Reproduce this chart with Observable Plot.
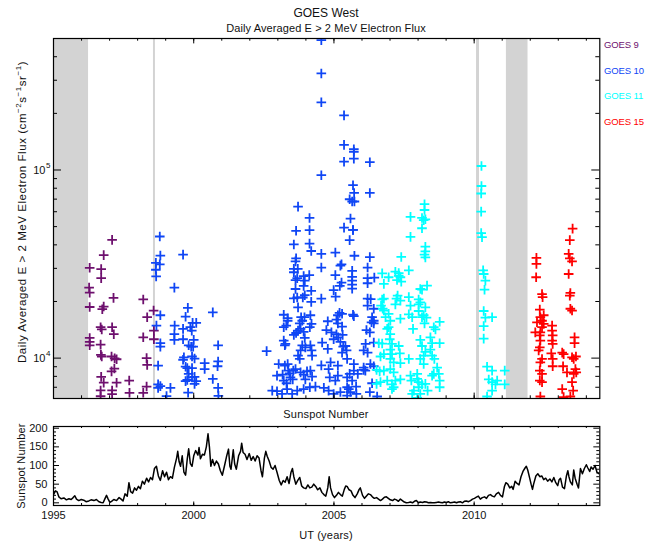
<!DOCTYPE html>
<html>
<head>
<meta charset="utf-8">
<script src="https://cdn.jsdelivr.net/npm/d3@7"></script>
<script src="https://cdn.jsdelivr.net/npm/@observablehq/plot@0.6"></script>
<style>
  body { margin: 0; background: #fff; }
  #wrap { position: relative; width: 646px; height: 544px; background: #fff; overflow: hidden;
          font-family: "Liberation Sans", Arial, sans-serif; color: #111; }
  .abs { position: absolute; white-space: nowrap; }
  .ctr { transform: translate(-50%, -50%); }
  .rot { transform: translate(-50%, -50%) rotate(-90deg); }
  sup { font-size: 8px; vertical-align: 5px; line-height: 0; }
  #top, #bottom { position: absolute; left: 0; }
  #top { top: 0; }
  #bottom { top: 400px; }
</style>
</head>
<body>
<div id="wrap">
  <div id="top"></div>
  <div id="bottom"></div>
  <div class="abs ctr" style="left:326px;top:13px;font-size:12px;">GOES West</div>
  <div class="abs ctr" style="left:326px;top:28px;font-size:11px;letter-spacing:0.1px;">Daily Averaged E &gt; 2 MeV Electron Flux</div>
  <div class="abs rot" style="left:22px;top:212px;font-size:11.5px;letter-spacing:0.55px;">Daily Averaged E &gt; 2 MeV Electron Flux (cm<sup>−2</sup>s<sup>−1</sup>sr<sup>−1</sup>)</div>
  <div class="abs ctr" style="left:326px;top:414px;font-size:11px;letter-spacing:0.2px;">Sunspot Number</div>
  <div class="abs rot" style="left:21px;top:466px;font-size:11px;letter-spacing:0.2px;">Sunspot Number</div>
  <div class="abs ctr" style="left:326px;top:535px;font-size:11px;letter-spacing:0.2px;">UT (years)</div>
  <div id="legend"></div>
</div>
<script>
// ---------------- data ----------------
const seriesNames = ["GOES 9", "GOES 10", "GOES 11", "GOES 15"];
const seriesColors = ["#6e106e", "#0f46f5", "#00ffff", "#ff0000"];

// [year, flux in units of 10^3 cm^-2 s^-1 sr^-1]
const goes9 = [[1997.09,42.5],[1996.79,35.3],[1996.29,30.2],[1996.70,29.7],[1996.70,26.6],[1996.27,23.7],[1996.29,22.3],[1997.14,20.9],[1998.20,20.5],[1996.29,18.7],[1996.79,18.8],[1996.74,18.2],[1998.57,17.9],[1998.34,16.5],[1996.68,14.6],[1996.72,14.2],[1997.09,14.6],[1997.15,13.4],[1998.58,14.0],[1996.29,12.8],[1996.29,12.2],[1996.29,11.7],[1998.20,12.9],[1998.58,12.6],[1996.68,11.8],[1996.69,10.4],[1996.72,10.2],[1997.07,10.2],[1997.18,9.98],[1997.25,9.86],[1998.32,10.0],[1998.34,9.2],[1997.17,8.8],[1997.07,8.5],[1996.70,7.95],[1996.79,7.4],[1997.25,7.4],[1997.70,7.6],[1998.32,7.06],[1996.68,6.73],[1997.09,6.73],[1997.09,6.43],[1997.71,6.54],[1998.20,6.54],[1996.68,6.27]];

const goes10 = [[1998.79,44.3],[1998.81,35.1],[1999.62,35.5],[1998.65,32.1],[1998.79,31.5],[1998.65,29.5],[1998.66,27.2],[1999.31,23.7],[1999.79,18.5],[1999.71,16.6],[2000.68,17.5],[1998.81,16.9],[1998.67,14.9],[1999.32,14.9],[1999.62,14.3],[1999.96,15.4],[2000.09,15.4],[1999.88,14.6],[1999.93,14.0],[1999.31,13.4],[1999.31,12.5],[1999.62,12.6],[2000.00,12.5],[1998.81,12.0],[1998.81,11.5],[1999.82,11.7],[1999.91,11.5],[1999.98,11.5],[2000.87,11.7],[1999.65,10.1],[1999.62,9.8],[1999.94,10.2],[2000.03,9.95],[1998.73,9.12],[2000.39,9.4],[2000.39,8.75],[2000.87,9.6],[2000.85,9.05],[1999.71,9.0],[1999.77,8.85],[1999.94,8.85],[1999.82,8.25],[2000.03,7.95],[1999.94,7.9],[1999.71,7.55],[1999.77,7.65],[2000.09,7.55],[2000.03,7.3],[2000.68,7.75],[1998.73,7.25],[1998.81,7.1],[1998.73,6.95],[1999.17,6.95],[2000.87,6.95],[1999.03,6.28],[1999.80,6.55],[2000.88,6.3],
[2004.55,490],[2004.55,326],[2004.55,229],[2005.36,195],[2005.36,136],[2005.71,129],[2005.71,125],[2005.36,110.7],[2005.71,115],[2006.28,110],[2004.55,93.8],[2005.68,83],[2005.72,75.5],[2006.28,75.5],[2005.56,69.9],[2005.65,68],[2005.73,68],[2003.72,63.9],[2004.13,55.6],[2003.65,47.5],[2004.13,47.9],[2005.36,49.4],[2005.68,48.0],[2005.56,42.4],[2003.57,40.2],[2004.13,40.6],[2004.19,37.1],[2004.55,35.8],[2005.05,36.4],[2005.73,35.0],[2006.28,34.4],[2003.65,33.9],[2003.63,32.7],[2003.71,29.8],[2003.57,29.8],[2003.57,28.6],[2004.55,30.3],[2005.27,31.5],[2005.23,31.0],[2006.20,30.3],[2003.63,26.0],[2003.69,26.6],[2003.63,23.3],[2003.57,20.8],[2003.69,21.0],[2003.92,27.3],[2003.96,25.8],[2003.92,24.2],[2003.96,21.6],[2003.89,21.0],[2004.12,27.6],[2004.19,22.8],[2004.19,19.9],[2004.55,20.7],[2005.05,27.6],[2004.99,23.0],[2005.06,21.2],[2005.21,24.2],[2005.27,25.2],[2005.65,29.1],[2005.65,27.0],[2005.65,25.8],[2005.65,24.6],[2005.65,23.4],[2006.20,26.6],[2006.20,25.0],[2006.44,26.8],[2006.20,20.7],[2006.20,19.0],[2006.31,20.6],[2006.42,18.3],[2006.36,16.5],[2006.42,15.8],[2006.34,15.5],[2006.42,15.3],[2003.72,18.6],[2003.21,17.0],[2003.35,16.3],[2003.35,15.8],[2003.83,16.5],[2003.95,16.5],[2003.87,15.8],[2003.78,15.3],[2004.16,16.9],[2004.20,15.2],[2004.14,14.6],[2003.21,14.6],[2003.30,14.9],[2003.65,13.6],[2003.57,13.3],[2003.72,14.0],[2003.81,14.3],[2003.92,13.8],[2003.96,12.8],[2003.21,12.4],[2003.27,11.9],[2003.25,11.7],[2003.87,11.7],[2003.81,11.0],[2003.98,11.4],[2004.16,11.7],[2004.20,11.0],[2004.22,10.3],[2003.72,10.3],[2003.78,9.9],[2004.58,12.1],[2004.78,15.7],[2005.09,16.0],[2005.14,15.3],[2005.20,17.4],[2005.14,16.9],[2005.29,17.2],[2005.68,17.0],[2005.71,16.7],[2004.73,14.1],[2004.91,13.7],[2005.09,13.4],[2005.15,12.9],[2004.99,12.6],[2005.31,13.3],[2005.23,12.2],[2005.33,11.5],[2005.45,11.0],[2005.29,10.7],[2005.47,9.9],[2004.78,11.2],[2006.16,14.1],[2006.28,13.7],[2006.13,11.9],[2006.06,11.0],[2006.20,10.7],[2006.30,9.3],[2002.60,10.9],
[2003.03,9.3],[2003.25,9.12],[2003.35,9.3],[2002.97,8.07],[2003.17,8.17],[2003.37,8.58],[2003.42,8.3],[2003.55,8.58],[2003.45,7.9],[2003.63,8.75],[2003.21,7.6],[2003.31,7.35],[2003.53,7.7],[2003.81,8.4],[2003.92,8.17],[2004.04,8.5],[2004.16,8.58],[2004.22,7.98],[2003.98,7.7],[2004.55,9.15],[2004.88,9.5],[2005.14,9.12],[2004.81,8.75],[2004.85,7.9],[2005.14,8.07],[2005.05,7.6],[2005.47,7.9],[2005.56,8.25],[2005.71,8.58],[2005.79,7.05],[2005.85,8.25],[2005.53,6.85],[2005.59,6.6],[2006.06,8.65],[2006.12,8.58],
[2002.80,6.72],[2002.97,6.67],[2003.15,6.45],[2003.33,6.85],[2003.51,6.45],[2003.69,6.72],[2003.92,6.85],[2004.14,7.0],[2004.34,7.05],[2004.64,6.95],[2004.81,6.72],[2004.99,6.45],[2005.23,6.6],[2005.47,6.32],[2005.80,6.45],[2006.28,6.6],[2006.54,6.25],
[2005.59,55.2],[2005.68,48.0],[2005.29,14.7],[2006.42,12.1],[2005.41,11.6],[2006.42,9.05],[2006.06,8.9],[2005.71,9.3],[2005.65,7.6],[2005.47,7.0],[2006.36,7.35]];

const goes11 = [[2008.23,65.8],[2008.23,61.3],[2007.73,56.3],[2008.14,55.6],[2008.20,54.1],[2008.26,54.7],[2008.14,49.0],[2007.73,44.1],[2008.26,39.1],[2008.26,36.9],[2008.26,34.3],[2008.23,35.5],[2007.40,34.5],[2007.67,29.3],[2006.72,28.2],[2006.95,26.9],[2007.19,28.8],[2007.31,28.3],[2007.37,26.9],[2007.25,26.0],[2007.40,25.5],[2007.31,27.4],[2008.08,23.3],[2008.14,23.1],[2008.32,24.3],[2006.78,24.8],[2006.72,20.5],[2006.78,20.7],[2006.68,19.0],[2006.74,18.3],[2007.27,21.5],[2007.23,20.7],[2007.37,20.2],[2007.19,19.3],[2007.67,21.1],[2007.73,19.0],[2007.67,17.1],[2008.02,20.5],[2008.08,19.8],[2008.02,19.3],[2008.02,17.8],[2008.26,18.6],[2008.20,16.9],[2008.14,16.5],[2008.30,16.4],[2008.23,15.3],[2006.78,17.9],[2006.95,17.2],[2006.84,16.5],[2007.37,16.2],[2007.79,16.5],[2007.82,14.3],[2007.01,15.8],[2006.95,14.6],[2006.90,14.3],[2008.56,14.6],[2008.62,14.2],[2008.77,15.6],[2008.44,12.9],[2008.50,12.0],[2008.77,12.0],[2008.08,12.5],[2008.14,11.6],[2008.26,10.8],[2008.20,10.3],[2008.08,9.9],[2008.20,9.3],[2007.01,13.4],[2006.99,12.6],[2007.07,11.9],[2007.01,11.1],[2007.07,10.5],[2007.01,9.9],[2007.13,9.5],[2006.60,12.0],[2006.72,11.95],[2006.78,10.5],[2006.66,10.2],[2007.31,11.6],[2007.35,10.6],[2007.37,9.4],[2007.67,9.9],[2008.44,11.1],[2008.50,10.3],[2008.58,9.9],[2008.68,8.9],[2008.56,8.25],[2006.52,8.65],[2006.63,8.5],[2006.78,8.58],[2007.01,8.75],[2007.13,8.4],[2007.19,7.6],[2007.37,7.7],[2006.52,7.3],[2006.66,7.45],[2006.90,7.6],[2007.07,7.25],[2007.07,6.85],[2007.13,7.0],[2007.73,8.07],[2007.76,7.6],[2007.97,8.25],[2007.97,7.75],[2008.02,7.45],[2008.02,7.0],[2008.14,7.25],[2007.85,6.72],[2008.08,6.45],[2007.79,6.45],[2008.34,6.72],[2008.26,7.3],[2008.50,8.07],[2008.74,8.25],[2008.77,7.6],[2008.77,7.0],[2007.97,6.15],
[2010.26,105],[2010.26,82.2],[2010.25,75.0],[2010.25,60.1],[2010.25,46.2],[2010.28,44.0],[2010.32,29.3],[2010.34,28.0],[2010.40,25.8],[2010.37,23.1],[2010.34,17.8],[2010.40,16.4],[2010.64,16.5],[2010.34,14.8],[2010.34,12.7],[2010.46,9.0],[2010.64,8.58],[2011.09,8.58],[2010.52,7.7],[2010.64,7.45],[2010.82,7.6],[2010.76,7.25],[2011.09,7.25],[2010.64,6.72],[2010.46,6.25]];

const goes15 = [[2012.22,34.1],[2012.22,31.7],[2012.21,26.9],[2012.42,21.9],[2012.44,21.1],[2012.34,18.1],[2012.36,16.5],[2012.48,16.9],[2012.42,15.8],[2012.24,15.5],[2012.48,15.2],[2012.42,14.6],[2012.36,13.7],[2012.18,13.7],[2012.34,13.2],[2012.36,12.4],[2012.34,11.4],[2012.30,11.0],[2012.42,9.9],[2012.36,9.5],[2012.34,8.58],[2012.42,8.25],[2012.34,7.6],[2012.42,7.45],[2012.36,6.25],[2012.78,14.9],[2012.78,14.0],[2012.80,13.2],[2012.78,12.4],[2012.80,11.9],[2012.75,10.6],[2012.80,9.9],[2012.80,9.05],[2013.14,10.7],[2013.19,10.5],[2013.17,9.05],[2013.14,6.85],[2013.51,48.8],[2013.41,42.4],[2013.37,35.8],[2013.41,33.9],[2013.49,32.7],[2013.37,28.0],[2013.43,22.2],[2013.41,21.5],[2013.43,18.3],[2013.49,17.9],[2013.58,12.9],[2013.58,12.0],[2013.49,10.1],[2013.63,10.2],[2013.55,9.9],[2013.61,8.75],[2013.64,8.4],[2013.55,8.25],[2013.31,8.4],[2013.49,7.45],[2013.53,6.72],[2013.19,6.2],[2013.43,6.25]];

// data gaps (gray bands), in years
const gapBands = [[1995.0, 1996.25], [1998.565, 1998.635], [2010.085, 2010.19], [2011.15, 2011.92]];

// sunspot number: [year, value]
const sunspot = [[1995.00,22],[1995.07,32],[1995.13,29],[1995.19,16],[1995.27,11],[1995.37,13],[1995.46,8],[1995.55,11],[1995.63,9],[1995.70,14],[1995.76,19],[1995.82,10],[1995.90,6],[1995.99,9],[1996.08,7],[1996.16,3],[1996.26,5],[1996.34,8],[1996.44,6],[1996.53,9],[1996.62,3],[1996.70,1],[1996.77,0],[1996.84,12],[1996.89,20],[1996.95,10],[1997.01,1],[1997.07,4],[1997.15,9],[1997.25,6],[1997.34,14],[1997.41,10],[1997.48,5],[1997.55,24],[1997.63,18],[1997.69,54],[1997.75,30],[1997.82,26],[1997.89,40],[1997.96,34],[1998.03,44],[1998.10,38],[1998.17,58],[1998.24,50],[1998.32,66],[1998.39,56],[1998.46,68],[1998.53,62],[1998.60,92],[1998.67,98],[1998.74,72],[1998.81,60],[1998.89,86],[1998.96,70],[1999.03,82],[1999.10,62],[1999.17,70],[1999.24,66],[1999.31,95],[1999.39,120],[1999.43,138],[1999.48,110],[1999.53,98],[1999.59,126],[1999.65,82],[1999.71,74],[1999.77,118],[1999.82,145],[1999.88,105],[1999.94,98],[2000.00,126],[2000.07,140],[2000.15,128],[2000.19,148],[2000.24,118],[2000.31,130],[2000.38,128],[2000.45,150],[2000.51,185],[2000.56,150],[2000.61,98],[2000.67,116],[2000.74,100],[2000.81,112],[2000.88,104],[2000.95,86],[2001.02,74],[2001.10,100],[2001.17,124],[2001.24,144],[2001.29,98],[2001.33,90],[2001.41,142],[2001.46,104],[2001.52,90],[2001.60,126],[2001.67,138],[2001.71,160],[2001.76,135],[2001.83,130],[2001.90,116],[2001.98,132],[2002.05,114],[2002.12,124],[2002.19,112],[2002.26,126],[2002.33,120],[2002.40,86],[2002.45,70],[2002.52,120],[2002.57,138],[2002.62,125],[2002.69,112],[2002.76,95],[2002.83,90],[2002.90,100],[2002.97,82],[2003.05,60],[2003.12,48],[2003.19,60],[2003.26,55],[2003.33,70],[2003.40,52],[2003.47,82],[2003.52,92],[2003.57,70],[2003.64,50],[2003.71,60],[2003.78,68],[2003.85,45],[2003.92,40],[2004.00,38],[2004.07,48],[2004.14,40],[2004.21,42],[2004.28,50],[2004.35,44],[2004.42,35],[2004.50,40],[2004.57,28],[2004.64,22],[2004.71,18],[2004.78,40],[2004.83,70],[2004.88,40],[2004.95,22],[2005.02,14],[2005.09,20],[2005.16,28],[2005.23,22],[2005.30,18],[2005.37,36],[2005.42,45],[2005.47,44],[2005.54,35],[2005.61,32],[2005.68,20],[2005.75,14],[2005.83,24],[2005.90,36],[2005.94,40],[2006.02,20],[2006.09,12],[2006.16,18],[2006.23,24],[2006.30,22],[2006.37,16],[2006.44,12],[2006.52,14],[2006.59,10],[2006.66,6],[2006.73,10],[2006.80,15],[2006.87,16],[2006.94,12],[2007.01,8],[2007.09,6],[2007.16,10],[2007.23,8],[2007.30,4],[2007.37,10],[2007.44,6],[2007.51,2],[2007.58,0],[2007.66,1],[2007.73,2],[2007.80,0],[2007.87,4],[2007.94,6],[2008.01,0],[2008.08,2],[2008.16,1],[2008.23,3],[2008.30,2],[2008.37,0],[2008.44,1],[2008.51,0],[2008.58,0],[2008.65,1],[2008.73,2],[2008.80,1],[2008.87,0],[2008.94,2],[2009.01,1],[2009.08,3],[2009.15,0],[2009.22,1],[2009.30,2],[2009.37,0],[2009.44,2],[2009.51,3],[2009.58,0],[2009.65,4],[2009.72,5],[2009.80,3],[2009.87,6],[2009.94,10],[2010.01,12],[2010.08,15],[2010.15,18],[2010.22,10],[2010.29,14],[2010.37,16],[2010.44,12],[2010.51,20],[2010.58,22],[2010.65,18],[2010.72,16],[2010.79,24],[2010.87,28],[2010.94,20],[2011.01,16],[2011.08,44],[2011.13,54],[2011.20,50],[2011.27,40],[2011.34,44],[2011.39,36],[2011.46,58],[2011.53,52],[2011.60,48],[2011.67,70],[2011.74,84],[2011.82,94],[2011.86,98],[2011.91,88],[2011.98,66],[2012.03,50],[2012.08,36],[2012.12,50],[2012.20,72],[2012.27,78],[2012.34,70],[2012.41,72],[2012.48,62],[2012.55,66],[2012.62,58],[2012.70,64],[2012.77,56],[2012.84,68],[2012.91,54],[2012.98,46],[2013.03,62],[2013.08,66],[2013.15,42],[2013.22,38],[2013.29,72],[2013.34,86],[2013.38,70],[2013.43,56],[2013.50,48],[2013.55,88],[2013.60,66],[2013.67,50],[2013.72,40],[2013.79,92],[2013.86,78],[2013.93,92],[2014.00,102],[2014.05,94],[2014.12,84],[2014.17,96],[2014.24,90],[2014.31,100],[2014.38,82],[2014.45,78]];

// axis ticks
const yearTicks = [1995,1996,1997,1998,1999,2000,2001,2002,2003,2004,2005,2006,2007,2008,2009,2010,2011,2012,2013,2014];
const yearMajorTicks = [1995, 2000, 2005, 2010];
const yearLabels = ["1995", "2000", "2005", "2010"];
const fluxMajorTicks = [1e4, 1e5];
const fluxMinorTicks = [7e3,8e3,9e3,2e4,3e4,4e4,5e4,6e4,7e4,8e4,9e4,2e5,3e5,4e5];
const ssnMajorTicks = [0, 50, 100, 150, 200];
const ssnMinorTicks = [10,20,30,40,60,70,80,90,110,120,130,140,160,170,180,190];

// ---------------- layout ----------------
const W = 646;
const mL = 53, mR = 46.7;
const innerW = W - mL - mR;
const xDomain = [1995, 2014.48];
const fluxDomain = [6100, 5e5];

const topH = 410, topMT = 38, topMB = 12;
const topInnerH = topH - topMT - topMB;
const botH = 144, botMT = 26, botMB = 39;
const botInnerH = botH - botMT - botMB;

const seriesData = [goes9, goes10, goes11, goes15];
const rows = seriesData.flatMap((arr, k) =>
  arr.map(([year, fk]) => ({year, flux: fk * 1000, series: seriesNames[k]})));

const tickStyle = {stroke: "black", strokeWidth: 1};
const font = "Liberation Sans, Arial, sans-serif";

const topPlot = Plot.plot({
  width: W, height: topH,
  marginLeft: mL, marginRight: mR, marginTop: topMT, marginBottom: topMB,
  style: {fontFamily: font, fontSize: "11px", background: "transparent", overflow: "visible", color: "#111"},
  x: {domain: xDomain, axis: null},
  y: {type: "log", domain: fluxDomain, axis: null},
  color: {domain: seriesNames, range: seriesColors},
  marks: [
    Plot.rect(gapBands, {x1: d => d[0], x2: d => d[1], fill: "#d3d3d3"}),
    Plot.dot(rows, {x: "year", y: "flux", stroke: "series", symbol: "plus", r: 3.2, strokeWidth: 1.8, clip: true}),
    // inward ticks
    Plot.ruleX(yearTicks, {x: d => d, insetTop: topInnerH - 2.7, ...tickStyle}),
    Plot.ruleX(yearTicks, {x: d => d, insetBottom: topInnerH - 2.7, ...tickStyle}),
    Plot.ruleX(yearMajorTicks, {x: d => d, insetTop: topInnerH - 5.4, ...tickStyle}),
    Plot.ruleX(yearMajorTicks, {x: d => d, insetBottom: topInnerH - 5.4, ...tickStyle}),
    Plot.ruleY(fluxMinorTicks, {y: d => d, insetRight: innerW - 4, ...tickStyle}),
    Plot.ruleY(fluxMinorTicks, {y: d => d, insetLeft: innerW - 4, ...tickStyle}),
    Plot.ruleY(fluxMajorTicks, {y: d => d, insetRight: innerW - 8, ...tickStyle}),
    Plot.ruleY(fluxMajorTicks, {y: d => d, insetLeft: innerW - 8, ...tickStyle}),
    Plot.text(fluxMajorTicks, {y: d => d, text: () => "10", frameAnchor: "left", textAnchor: "end", dx: -8, fontSize: 11, fill: "#111"}),
    Plot.text(fluxMajorTicks, {y: d => d, text: d => String(Math.round(Math.log10(d))), frameAnchor: "left", textAnchor: "end", dx: -3, dy: -5, fontSize: 8, fill: "#111"}),
    Plot.frame({stroke: "black", strokeWidth: 1.2})
  ]
});
document.getElementById("top").append(topPlot);

const botPlot = Plot.plot({
  width: W, height: botH,
  marginLeft: mL, marginRight: mR, marginTop: botMT, marginBottom: botMB,
  style: {fontFamily: font, fontSize: "11px", background: "transparent", overflow: "visible", color: "#111"},
  x: {domain: xDomain, axis: null},
  y: {domain: [-7.2, 204.6], axis: null},
  marks: [
    Plot.line(sunspot, {x: d => d[0], y: d => d[1], stroke: "black", strokeWidth: 1.5, clip: true}),
    Plot.ruleX(yearTicks, {x: d => d, insetTop: botInnerH - 2, ...tickStyle}),
    Plot.ruleX(yearTicks, {x: d => d, insetBottom: botInnerH - 2, ...tickStyle}),
    Plot.ruleX(yearMajorTicks, {x: d => d, insetTop: botInnerH - 3.5, ...tickStyle}),
    Plot.ruleX(yearMajorTicks, {x: d => d, insetBottom: botInnerH - 3.5, ...tickStyle}),
    Plot.ruleY(ssnMinorTicks, {y: d => d, insetRight: innerW - 3, ...tickStyle}),
    Plot.ruleY(ssnMinorTicks, {y: d => d, insetLeft: innerW - 3, ...tickStyle}),
    Plot.ruleY(ssnMajorTicks, {y: d => d, insetRight: innerW - 6, ...tickStyle}),
    Plot.ruleY(ssnMajorTicks, {y: d => d, insetLeft: innerW - 6, ...tickStyle}),
    Plot.text(ssnMajorTicks, {y: d => d, text: d => String(d), frameAnchor: "left", textAnchor: "end", dx: -6, fontSize: 11, fill: "#111"}),
    Plot.text(yearMajorTicks, {x: d => d, text: (d, i) => yearLabels[i], frameAnchor: "bottom", dy: 13, fontSize: 11, fill: "#111"}),
    Plot.frame({stroke: "black", strokeWidth: 1.2})
  ]
});
document.getElementById("bottom").append(botPlot);

// legend (series labels at the right of the top panel)
const legend = document.getElementById("legend");
seriesNames.forEach((name, i) => {
  const d = document.createElement("div");
  d.className = "abs";
  d.style.left = "604px";
  d.style.top = (39 + i * 25.5) + "px";
  d.style.fontSize = "9.5px";
  d.style.letterSpacing = "-0.1px";
  d.style.color = seriesColors[i];
  d.textContent = name;
  legend.append(d);
});
</script>
</body>
</html>
